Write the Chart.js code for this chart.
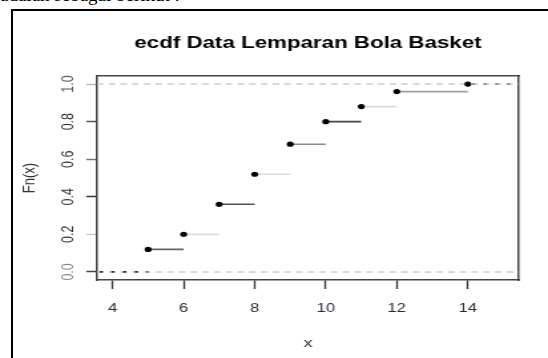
<!DOCTYPE html>
<html><head><meta charset="utf-8">
<script src="https://cdn.jsdelivr.net/npm/chart.js@4/dist/chart.umd.min.js"></script>
<style>
html,body{margin:0;padding:0;background:#fff;width:548px;height:358px;overflow:hidden;position:relative;}
#lead{position:absolute;left:0px;top:-13px;font:19px "Liberation Serif",serif;line-height:16px;white-space:nowrap;color:#000;}
#frame{position:absolute;left:11px;top:9px;width:600px;height:400px;border-left:2px solid #000;border-top:2px solid #000;}
#wrap{position:absolute;left:0;top:0;width:412px;height:358px;transform:scaleX(1.33);transform-origin:0 0;}
</style></head><body>
<div id="lead">adalah sebagai berikut :</div>
<div id="frame"></div>
<div id="wrap"><canvas id="c" width="412" height="358"></canvas></div>
<script>
// ---- data ----
const X_VALUES  = [5, 6, 7, 8, 9, 10, 11, 12, 14];
const FN_VALUES = [0.12, 0.20, 0.36, 0.52, 0.68, 0.80, 0.88, 0.96, 1.00];
const X_LIMITS  = [3.56, 15.44];
const Y_LIMITS  = [-0.043, 1.043];
const X_TICKS   = [4, 6, 8, 10, 12, 14];
const Y_TICKS   = [0, 0.2, 0.4, 0.6, 0.8, 1.0];
const REF_LINES = [0, 1];
const TITLE   = 'ecdf Data Lemparan Bola Basket';
const X_LABEL = 'x';
const Y_LABEL = 'Fn(x)';

// ---- styles ----
const SEG_COLORS = ['#666666', '#dcdcdc', '#505050', '#dadada', '#8a8a8a', '#444444', '#dadada', '#a0a0a0'];
const Y_TICK_COLORS = ['#444', '#c8c8c8', '#333', '#777', '#555', '#bbb'];
const Y_LABEL_COLORS = ['#888', '#333', '#333', '#333', '#333', '#555'];
const FONT = 'Liberation Sans, Arial, sans-serif';

const datasets = [];
// points
datasets.push({
  data: X_VALUES.map((x, i) => ({x, y: FN_VALUES[i]})),
  showLine: false, pointRadius: 2.6, pointBackgroundColor: '#000', pointBorderColor: '#000',
  pointBorderWidth: 0, order: 0, xAxisID: 'x', yAxisID: 'y'
});
// step segments
for (let i = 0; i < X_VALUES.length - 1; i++) {
  datasets.push({
    data: [{x: X_VALUES[i], y: FN_VALUES[i]}, {x: X_VALUES[i + 1], y: FN_VALUES[i]}],
    showLine: true, borderColor: SEG_COLORS[i], borderWidth: 1.6, pointRadius: 0,
    order: 1, xAxisID: 'x', yAxisID: 'y'
  });
}
// tails
datasets.push({
  data: [{x: X_LIMITS[0], y: 0}, {x: X_VALUES[0], y: 0}],
  showLine: true, borderColor: '#333', borderWidth: 1.6, borderDash: [2.5, 6.3], borderDashOffset: -2,
  pointRadius: 0, order: 1, xAxisID: 'x', yAxisID: 'y'
});
datasets.push({
  data: [{x: X_VALUES[X_VALUES.length - 1], y: FN_VALUES[FN_VALUES.length - 1]}, {x: X_LIMITS[1], y: FN_VALUES[FN_VALUES.length - 1]}],
  showLine: true, borderColor: '#888', borderWidth: 1.6, borderDash: [2.5, 6.3], borderDashOffset: -3,
  pointRadius: 0, order: 1, xAxisID: 'x', yAxisID: 'y'
});
// reference dashed lines
REF_LINES.forEach(v => datasets.push({
  data: [{x: X_LIMITS[0], y: v}, {x: X_LIMITS[1], y: v}],
  showLine: true, borderColor: '#cdcdcd', borderWidth: 1.5, borderDash: [5, 3.8],
  pointRadius: 0, order: 3, xAxisID: 'x', yAxisID: 'y'
}));

new Chart(document.getElementById('c'), {
  type: 'scatter',
  data: {datasets},
  options: {
    responsive: false, animation: false, devicePixelRatio: 1,
    layout: {padding: 0},
    plugins: {legend: {display: false}, tooltip: {enabled: false}, title: {display: false}},
    scales: {
      x: {
        type: 'linear', position: 'bottom', min: X_LIMITS[0], max: X_LIMITS[1],
        afterBuildTicks: s => { s.ticks = X_TICKS.map(v => ({value: v})); },
        afterFit: s => { s.height = 78; },
        ticks: {color: '#2a2a3a', font: {family: FONT, size: 12.5}, padding: 12, maxRotation: 0, autoSkip: false},
        grid: {display: true, drawOnChartArea: false, drawTicks: true, tickLength: 9, tickColor: '#333', tickWidth: 1.3},
        border: {display: true, color: '#444', width: 1.5},
        title: {display: true, text: X_LABEL, color: '#333', font: {family: FONT, size: 13.5}, padding: {top: 0, bottom: 7}}
      },
      y: {
        type: 'linear', position: 'left', min: Y_LIMITS[0], max: Y_LIMITS[1],
        afterBuildTicks: s => { s.ticks = Y_TICKS.map(v => ({value: v})); },
        afterFit: s => { s.width = 72.9; },
        ticks: {
          color: c => Y_LABEL_COLORS[c.index] || '#333',
          font: {family: FONT, size: 12.5}, padding: 5, minRotation: 90, maxRotation: 90,
          crossAlign: 'center', autoSkip: false,
          callback: v => Number(v).toFixed(1)
        },
        grid: {display: true, drawOnChartArea: false, drawTicks: true, tickLength: 8,
               tickColor: c => Y_TICK_COLORS[c.index] || '#444', tickWidth: 1.5},
        border: {display: true, color: '#444', width: 1.5},
        title: {display: true, text: Y_LABEL, color: '#333', font: {family: FONT, size: 13}, padding: {top: 14.5, bottom: 0}}
      },
      xTop: {
        type: 'linear', position: 'top', min: X_LIMITS[0], max: X_LIMITS[1],
        afterFit: s => { s.height = 76; },
        ticks: {display: false}, grid: {display: false},
        border: {display: true, color: '#444', width: 1.5},
        title: {display: true, text: TITLE, color: '#000', font: {family: FONT, size: 16.8, weight: 'bold'}, padding: {top: 33, bottom: 0}}
      },
      yRight: {
        type: 'linear', position: 'right', min: Y_LIMITS[0], max: Y_LIMITS[1],
        afterFit: s => { s.width = 21.8; },
        ticks: {display: false}, grid: {display: false},
        border: {display: true, color: '#444', width: 1.5}
      }
    }
  }
});
</script>
</body></html>
